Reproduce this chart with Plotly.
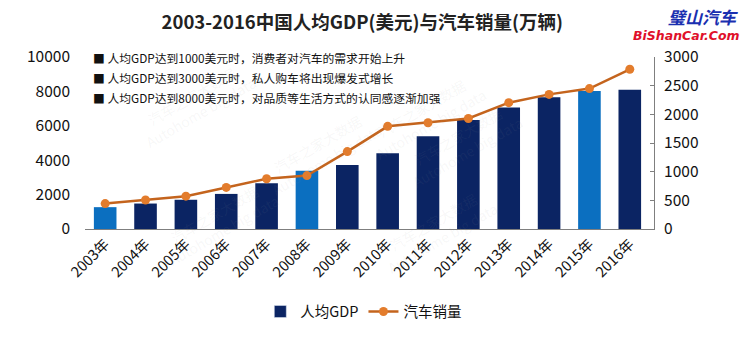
import plotly.graph_objects as go

years = ["2003年", "2004年", "2005年", "2006年", "2007年", "2008年", "2009年",
         "2010年", "2011年", "2012年", "2013年", "2014年", "2015年", "2016年"]
gdp = [1270, 1480, 1700, 2040, 2660, 3390, 3720, 4400, 5390, 6330, 7070, 7660, 8030, 8090]
sales = [443, 506, 573, 725, 876, 932, 1350, 1791, 1854, 1927, 2203, 2348, 2449, 2786]
highlight_years = ["2003年", "2008年", "2015年"]
notes = ["人均GDP达到1000美元时，消费者对汽车的需求开始上升",
         "人均GDP达到3000美元时，私人购车将出现爆发式增长",
         "人均GDP达到8000美元时，对品质等生活方式的认同感逐渐加强"]

FONT = "Noto Sans CJK SC, Noto Sans, sans-serif"
NAVY = "#0b2463"
BLUE = "#0b6fc0"
bar_colors = [BLUE if y in highlight_years else NAVY for y in years]

fig = go.Figure()
fig.add_trace(go.Bar(x=years, y=gdp, name="人均GDP", marker_color=bar_colors,
                     marker_line_width=0, yaxis="y", showlegend=False))
fig.add_trace(go.Bar(x=[years[0]], y=[None], name="人均GDP", marker_color=NAVY,
                     showlegend=True, legendrank=1))
fig.add_trace(go.Scatter(x=years, y=sales, name="汽车销量", mode="lines+markers",
                         line=dict(color="#c4641d", width=2.5),
                         marker=dict(color="#e37c2c", size=9), yaxis="y2",
                         legendrank=2))

fig.update_layout(
    width=744, height=340,
    margin=dict(l=85, r=90, t=57, b=105),
    paper_bgcolor="white", plot_bgcolor="white",
    bargap=0.44,
    barmode="overlay",
    font=dict(family=FONT, color="#111111"),
    title=dict(text="<b>2003-2016中国人均GDP(美元)与汽车销量(万辆)</b>",
               x=0.487, xanchor="center", y=0.935, yanchor="middle",
               font=dict(size=18.5, color="#222222", family=FONT)),
    xaxis=dict(range=[-0.5, 13.6], showgrid=False, showline=True,
               linecolor="#7f7f7f", linewidth=1, ticks="", tickangle=-45,
               tickfont=dict(size=14.5, family=FONT, color="#111111")),
    yaxis=dict(range=[0, 10000], dtick=2000, tickformat="d", showgrid=False,
               showline=False, zeroline=False, ticks="",
               tickfont=dict(size=15.5, color="#111111"), ticklabelstandoff=14),
    yaxis2=dict(range=[0, 3000], dtick=500, tickformat="d", overlaying="y",
                side="right", showgrid=False, showline=True, linecolor="#7f7f7f",
                linewidth=1, ticks="inside", ticklen=4, tickcolor="#7f7f7f",
                zeroline=False, tickfont=dict(size=15.5, color="#111111"),
                ticklabelstandoff=6),
    legend=dict(orientation="h", x=0.49, xanchor="center", y=-0.48, yanchor="middle",
                font=dict(size=14.5, family=FONT, color="#111111"),
                traceorder="normal", itemwidth=30),
)

# bullet notes
for i, t in enumerate(notes):
    fig.add_annotation(xref="paper", yref="paper", x=0.01, y=1.0 - i * 0.117,
                       xanchor="left", yanchor="middle", showarrow=False,
                       text="■ " + t, font=dict(size=11.8, family=FONT, color="#111111"))

# logo at top right
fig.add_annotation(xref="paper", yref="paper", x=1.151, y=1.235, xanchor="right",
                   yanchor="middle", showarrow=False, text="<b><i>璧山汽车</i></b>",
                   font=dict(size=17, family=FONT, color="#1a2fb0"))
fig.add_annotation(xref="paper", yref="paper", x=1.155, y=1.125, xanchor="right",
                   yanchor="middle", showarrow=False, text="<b><i>BiShanCar.Com</i></b>",
                   font=dict(size=12.5, family="DejaVu Sans", color="#e0102a"))

# faint watermarks
for (wx, wy) in [(0.08, 1.02), (0.6, 0.95), (0.3, 0.45), (0.78, 0.2), (0.12, -0.25), (0.62, -0.3)]:
    fig.add_annotation(xref="paper", yref="paper", x=wx, y=wy, showarrow=False,
                       text="汽车之家大数据<br>Autohome big data", textangle=-30,
                       font=dict(size=14, family=FONT, color="rgba(150,150,150,0.08)"))

fig.write_html("out.html")
